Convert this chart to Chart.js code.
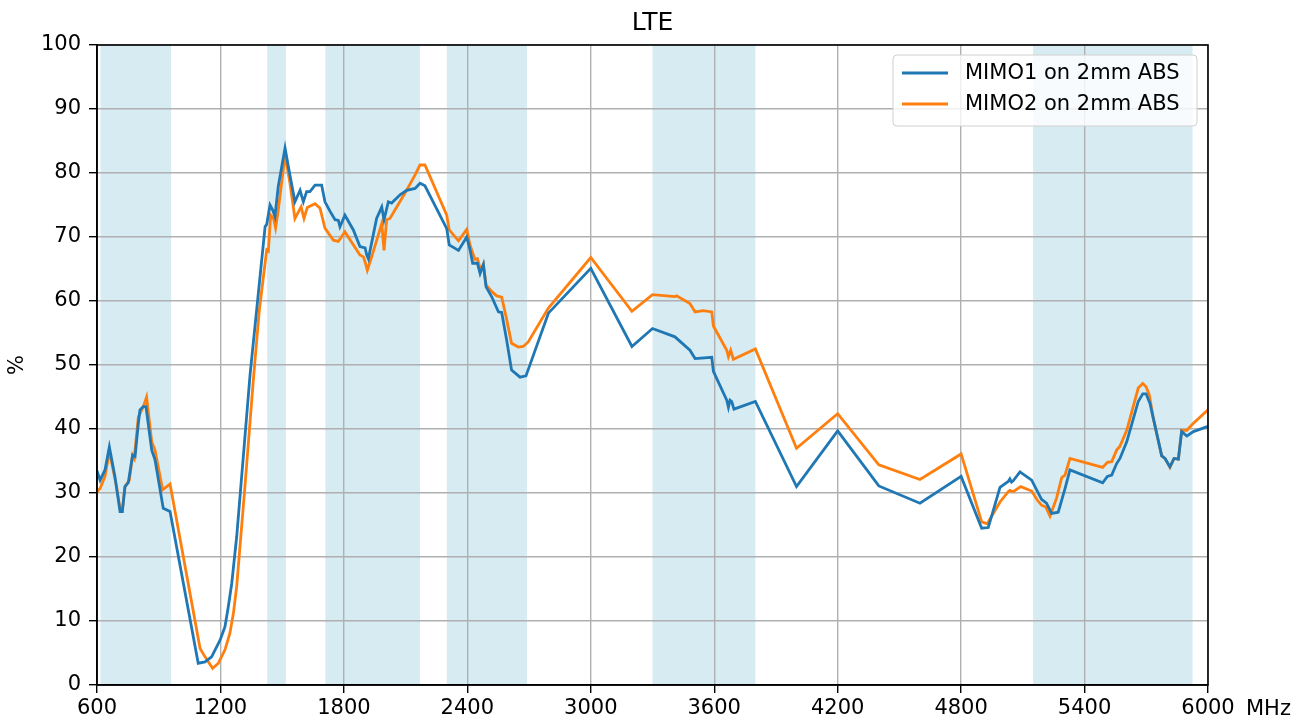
<!DOCTYPE html>
<html>
<head>
<meta charset="utf-8">
<script src="https://cdn.jsdelivr.net/npm/chart.js@4.4.1/dist/chart.umd.min.js"></script>
<style>
  html, body { margin: 0; padding: 0; background: #ffffff; }
  #wrap { width: 1305px; height: 724px; }
</style>
</head>
<body>
<div id="wrap"><canvas id="c" width="1305" height="724"></canvas></div>
<script>
const chartTitle = "LTE";
const seriesNames = ["MIMO1 on 2mm ABS", "MIMO2 on 2mm ABS"];
const xTicks = [600, 1200, 1800, 2400, 3000, 3600, 4200, 4800, 5400, 6000];
const yTicks = [0, 10, 20, 30, 40, 50, 60, 70, 80, 90, 100];
const bandStart = [617, 1427, 1710, 2300, 3300, 5150];
const bandEnd   = [960, 1518, 2170, 2690, 3800, 5925];

const mimo1Freq = [600,615,639,660,687,712,723,736,752,773,785,801,809,825,838,866,882,922,955,1092,1125,1157,1198,1222,1238,1255,1279,1344,1376,1417,1425,1441,1454,1465,1481,1514,1530,1562,1587,1603,1619,1635,1660,1692,1708,1733,1757,1773,1781,1805,1846,1878,1903,1911,1919,1959,1984,1995,2016,2032,2073,2105,2146,2170,2194,2300,2312,2357,2397,2413,2426,2449,2462,2478,2491,2518,2551,2567,2591,2615,2656,2685,2794,3000,3200,3300,3409,3482,3507,3588,3596,3661,3669,3677,3685,3696,3800,4000,4200,4400,4600,4800,4900,4932,4989,5029,5037,5045,5053,5086,5143,5167,5191,5215,5240,5272,5305,5329,5488,5511,5532,5556,5572,5605,5661,5683,5699,5718,5734,5775,5791,5815,5835,5856,5872,5897,5929,6000];
const mimo1Pct  = [33.5,32.0,33.6,37.2,32.6,27.1,27.1,31.0,31.6,35.9,35.7,40.9,43.0,43.5,43.5,36.7,35.2,27.6,27.1,3.4,3.6,4.4,7.0,9.1,12.2,15.9,23.2,48.5,58.6,71.6,72.0,75.0,74.2,73.2,77.9,83.9,81.0,75.5,77.3,75.5,77.1,77.1,78.1,78.1,75.5,74.0,72.7,72.6,71.6,73.4,71.1,68.5,68.3,67.2,66.6,72.9,74.7,72.7,75.5,75.3,76.6,77.3,77.6,78.4,78.0,71.3,68.75,67.9,70.0,68.0,65.9,65.9,64.3,65.7,62.2,60.7,58.3,58.2,53.9,49.2,48.1,48.3,58.1,65.1,52.9,55.7,54.4,52.3,51.0,51.2,49.0,44.5,43.4,44.5,44.3,43.1,44.3,31.0,39.7,31.1,28.4,32.6,24.5,24.6,30.9,31.8,32.2,31.7,31.9,33.3,32.0,30.5,29.0,28.4,26.8,27.0,30.7,33.6,31.6,32.6,32.8,34.6,35.4,38.0,44.3,45.5,45.5,44.0,41.7,35.8,35.4,34.1,35.4,35.3,39.6,38.9,39.6,40.4];

const mimo2Freq = [600,615,639,660,692,712,723,736,757,773,781,801,825,841,866,882,919,955,1101,1125,1162,1190,1222,1246,1263,1279,1319,1360,1389,1425,1433,1444,1458,1468,1481,1514,1538,1562,1592,1606,1622,1660,1684,1708,1749,1773,1805,1878,1895,1903,1914,1935,1984,1995,2008,2024,2105,2146,2170,2194,2300,2312,2357,2397,2413,2426,2437,2449,2465,2478,2491,2518,2543,2567,2588,2615,2648,2672,2696,2794,3000,3200,3300,3409,3417,3482,3507,3547,3588,3596,3661,3669,3680,3693,3800,4000,4200,4400,4600,4800,4900,4927,4989,5029,5037,5053,5090,5143,5170,5191,5212,5232,5264,5289,5305,5329,5488,5511,5532,5556,5572,5605,5661,5683,5699,5715,5734,5775,5791,5815,5835,5856,5872,5897,5929,6000];
const mimo2Pct  = [30.2,30.7,32.6,36.5,31.5,27.6,27.3,31.0,32.0,35.9,35.4,41.9,43.5,45.0,38.0,36.7,30.5,31.4,5.7,4.4,2.6,3.4,5.5,8.1,11.2,15.4,31.0,47.7,58.6,68.0,67.8,73.4,72.9,71.4,74.2,82.8,78.4,72.9,74.7,72.9,74.6,75.2,74.5,71.4,69.5,69.3,70.8,67.2,66.9,66.1,64.8,66.9,72.1,67.9,72.7,72.9,77.3,79.7,81.25,81.25,73.4,71.1,69.4,71.2,68.75,67.5,66.5,66.6,64.8,65.7,62.5,61.5,60.8,60.6,57.6,53.4,52.8,52.9,53.6,58.9,66.8,58.4,61.0,60.7,60.8,59.6,58.3,58.5,58.3,56.1,52.3,51.3,52.3,50.9,52.5,37.0,42.4,34.4,32.1,36.1,25.5,25.2,28.6,30.2,30.4,30.2,31.0,30.3,28.9,28.1,27.8,26.4,29.2,32.4,32.8,35.4,34.0,34.8,34.9,36.7,37.3,39.8,46.4,47.1,46.6,45.3,41.7,35.8,35.4,34.0,35.4,35.3,39.8,39.8,40.9,43.0];

const FONT = "'DejaVu Sans', sans-serif";
const FS = 21;
const blue = "#1f77b4", orange = "#ff7f0e";

function pts(xs, ys) { return xs.map((x, i) => ({ x: x, y: ys[i] })); }

const bandsPlugin = {
  id: "bands",
  beforeDraw(chart) {
    const { ctx, chartArea: a, scales: { x } } = chart;
    ctx.save();
    ctx.fillStyle = "#ffffff";
    ctx.fillRect(0, 0, chart.width, chart.height);
    ctx.fillStyle = "rgba(173,216,230,0.5)";
    for (let i = 0; i < bandStart.length; i++) {
      const x0 = x.getPixelForValue(bandStart[i]);
      const x1 = x.getPixelForValue(bandEnd[i]);
      ctx.fillRect(x0, a.top, x1 - x0, a.bottom - a.top);
    }
    ctx.restore();
  }
};

const decoPlugin = {
  id: "deco",
  afterDraw(chart) {
    const { ctx, chartArea: a } = chart;
    ctx.save();
    ctx.strokeStyle = "#000";
    ctx.lineWidth = 1.6;
    ctx.strokeRect(a.left, a.top, a.right - a.left, a.bottom - a.top);
    // title
    ctx.fillStyle = "#000";
    ctx.font = "25px " + FONT;
    ctx.textAlign = "center";
    ctx.textBaseline = "middle";
    ctx.fillText(chartTitle, (a.left + a.right) / 2, 23);
    // y label
    ctx.font = FS + "px " + FONT;
    ctx.translate(18, (a.top + a.bottom) / 2);
    ctx.rotate(-Math.PI / 2);
    ctx.fillText("%", 0, 0);
    ctx.restore();
    ctx.save();
    ctx.fillStyle = "#000";
    ctx.font = FS + "px " + FONT;
    ctx.textAlign = "left";
    ctx.textBaseline = "middle";
    ctx.fillText("MHz", 1246, a.bottom + 25);
    // legend
    const lx = 893, ly = 55, lw = 304, lh = 71, r = 4;
    ctx.beginPath();
    ctx.moveTo(lx + r, ly);
    ctx.lineTo(lx + lw - r, ly); ctx.quadraticCurveTo(lx + lw, ly, lx + lw, ly + r);
    ctx.lineTo(lx + lw, ly + lh - r); ctx.quadraticCurveTo(lx + lw, ly + lh, lx + lw - r, ly + lh);
    ctx.lineTo(lx + r, ly + lh); ctx.quadraticCurveTo(lx, ly + lh, lx, ly + lh - r);
    ctx.lineTo(lx, ly + r); ctx.quadraticCurveTo(lx, ly, lx + r, ly);
    ctx.closePath();
    ctx.fillStyle = "rgba(255,255,255,0.8)";
    ctx.fill();
    ctx.strokeStyle = "#d0d0d0";
    ctx.lineWidth = 1;
    ctx.stroke();
    const cols = [blue, orange];
    for (let i = 0; i < 2; i++) {
      const yy = ly + 18 + i * 31;
      ctx.strokeStyle = cols[i];
      ctx.lineWidth = 2.8;
      ctx.beginPath();
      ctx.moveTo(lx + 9, yy);
      ctx.lineTo(lx + 55, yy);
      ctx.stroke();
      ctx.fillStyle = "#000";
      ctx.font = FS + "px " + FONT;
      ctx.textBaseline = "middle";
      ctx.fillText(seriesNames[i], lx + 72, yy + 1);
    }
    ctx.restore();
  }
};

new Chart(document.getElementById("c"), {
  type: "line",
  data: {
    datasets: [
      { label: seriesNames[0], data: pts(mimo1Freq, mimo1Pct), borderColor: blue, borderWidth: 2.8, pointRadius: 0, tension: 0, fill: false },
      { label: seriesNames[1], data: pts(mimo2Freq, mimo2Pct), borderColor: orange, borderWidth: 2.8, pointRadius: 0, tension: 0, fill: false }
    ]
  },
  options: {
    responsive: false,
    animation: false,
    devicePixelRatio: 1,
    layout: { padding: { left: 0, right: 97, top: 45, bottom: 0 } },
    plugins: {
      legend: { display: false },
      tooltip: { enabled: false },
      title: { display: false }
    },
    scales: {
      x: {
        type: "linear", min: 600, max: 6000,
        afterBuildTicks(s) { s.ticks = xTicks.map(v => ({ value: v })); },
        afterFit(s) { s.height = 39; },
        ticks: { color: "#000", font: { family: FONT, size: FS }, padding: 3, maxRotation: 0, autoSkip: false,
                 callback: v => String(v) },
        grid: { color: "#b0b0b0", lineWidth: 1.4, tickColor: "#000", tickLength: 8, tickWidth: 1.4 },
        border: { color: "#000", width: 1.6 }
      },
      y: {
        type: "linear", min: 0, max: 100,
        afterBuildTicks(s) { s.ticks = yTicks.map(v => ({ value: v })); },
        afterFit(s) { s.width = 97; },
        ticks: { color: "#000", font: { family: FONT, size: FS }, padding: 8, callback: v => String(v) },
        grid: { color: "#b0b0b0", lineWidth: 1.4, tickColor: "#000", tickLength: 8, tickWidth: 1.4 },
        border: { color: "#000", width: 1.6 }
      }
    }
  },
  plugins: [bandsPlugin, decoPlugin]
});
</script>
</body>
</html>
